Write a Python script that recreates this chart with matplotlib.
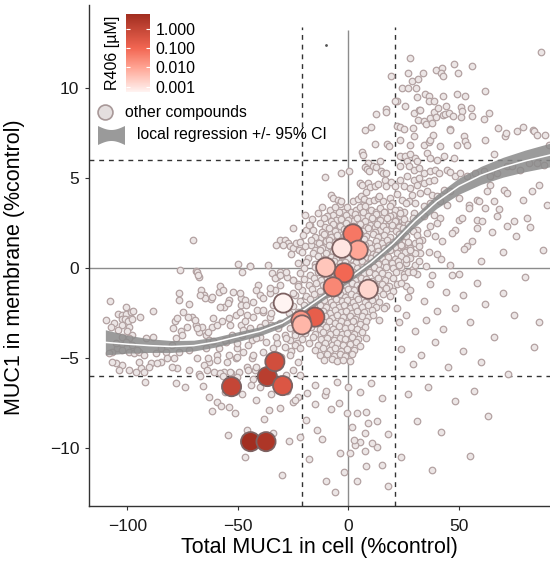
import numpy as np
import matplotlib
matplotlib.use("Agg")
import matplotlib.pyplot as plt
from matplotlib.colors import LinearSegmentedColormap, LogNorm
from matplotlib.patches import Polygon
from matplotlib.ticker import NullLocator

plt.rcParams['font.family'] = ['Liberation Sans', 'DejaVu Sans']

# ---- other compounds (Total MUC1 %control, membrane MUC1 %control), read by region ----
cloud_top = [
    (27.7, 11.67), (87.3, 12.0), (26.8, 10.83), (28.6, 10.4), (31.3, 10.5), (33.7, 10.83),
    (39.7, 10.98), (42.3, 11.1), (42, 10.8), (43, 10.65), (47.9, 11.35), (49.7, 10.83),
    (56, 11.2), (24.2, 10.0), (26.8, 10.0), (30.7, 10.0), (21.9, 9.25), (31, 9.5),
    (34.8, 9.67), (36.6, 9.53), (36.3, 9.3), (38.8, 9.29), (42.6, 9.57), (49.2, 9.68),
    (52.7, 9.53), (61.8, 9.83), (25.7, 9.0), (29.5, 8.61), (31.8, 8.8), (32.5, 8.8),
    (31.3, 8.24), (34.3, 8.18), (35.2, 8.0), (37, 8.33), (37.6, 8.05), (38.5, 8.65),
    (39.7, 8.37), (40.5, 8.9), (42.6, 8.52), (43.8, 8.56), (44.3, 8.98), (45.6, 8.61),
    (47.1, 8.46), (50.8, 8.94), (51.4, 8.7), (51, 8.37), (55.4, 8.89), (56, 8.42),
    (61.4, 8.29), (63.6, 8.61), (21.9, 7.9), (23.4, 7.81), (25, 7.74), (29.2, 7.78),
    (45.8, 7.74), (67.6, 7.78), (78.8, 7.81), (83.5, 7.64), (19.4, 10.64), (12.6, 8.57),
    (16.8, 8.83), (17.1, 8.64), (20.9, 9.29), (7.3, 7.68), (10.3, 7.81),
    (11.9, 6.9), (17.4, 6.9), (18.2, 6.76), (6.2, 6.44), (6.6, 6.26), (14.4, 5.92),
    (8.8, 5.83), (7.3, 5.59), (8.4, 5.52), (11.1, 5.64), (12.6, 5.59), (9.3, 5.4),
    (14.6, 5.37), (15.6, 5.28), (16.8, 5.28), (-3.5, 5.28), (0.1, 5.4), (-10.8, 5.06),
    (23.4, 7.13), (28, 6.85), (29.5, 7.31), (34, 6.85), (36.3, 6.98), (37, 7.13),
    (38.2, 7.41), (41.5, 6.76), (46.1, 7.68), (49.1, 6.85), (52.1, 7.31), (52.9, 7.03),
    (53.6, 6.85), (61.9, 7.13), (65.7, 6.35), (71, 7.31), (71.4, 7.5), (76.2, 7.59),
    (83.8, 7.59), (85.3, 7.41), (89, 7.41), (90.6, 6.85),
    (23.4, 6.2), (25.7, 6.24), (28, 6.35), (30.2, 6.11), (26.5, 5.92), (31, 5.92),
    (35.5, 6.39), (37, 6.11), (40, 6.02), (43.1, 6.2), (47.6, 6.11), (23.4, 5.64),
    (27.2, 5.64), (29.5, 5.46), (31.8, 5.56), (34, 5.28), (37, 5.37), (39.3, 5.46),
    (40.8, 5.28), (44.6, 5.46), (46.1, 5.31), (48.3, 5.09), (50.6, 5.28), (53.6, 5.09),
    (57.4, 5.28), (61.2, 5.37), (64.2, 5.09), (67.2, 5.28), (71.7, 5.64), (74, 5.64),
    (77.7, 5.46), (81.5, 5.83), (85.3, 5.83), (88.3, 5.74),
]

cloud_right = [
    (23.4, 4.91), (26.5, 5.09), (29.5, 4.91), (31.8, 5.0), (25, 4.53), (28, 4.44),
    (31, 4.63), (34, 4.72), (36.3, 4.81), (38.5, 4.91), (28.7, 4.07), (32.5, 4.17),
    (35.5, 4.26), (37.8, 4.07), (40, 3.98), (43.1, 4.35), (46.1, 4.26), (49.9, 3.89),
    (24.2, 3.79), (27.2, 3.7), (30.2, 3.61), (34, 3.42), (37, 3.61), (41.5, 3.7),
    (44.6, 3.52), (54.4, 3.52), (58.1, 3.79), (62.7, 4.26), (64.2, 4.63), (70.2, 4.35),
    (71.7, 4.17), (83, 4.26), (54.4, 3.33), (58.9, 3.7), (61.9, 3.33), (65.7, 3.7),
    (67.2, 2.87), (71.7, 2.31), (74.8, 2.59), (80.8, 2.78), (58.1, 2.68), (60.4, 2.59),
    (49.9, 2.68), (51.4, 2.78), (48.3, 2.13), (46.8, 1.94), (25, 3.14), (29.5, 3.06),
    (34, 2.87), (38.5, 2.96), (41.5, 2.78), (37, 2.31), (40, 2.5), (25, 2.5),
    (31, 2.13), (35.5, 1.94), (39.3, 1.76), (42.3, 1.48), (33.3, 1.57), (30.2, 1.39),
    (25, 1.76), (53.6, 1.2), (52.1, 1.06), (22.7, 3.24), (23.4, 2.87), (22.7, 2.31),
    (24.2, 2.13), (22.7, 1.57), (24.2, 1.2), (23.4, 0.83), (26.5, 1.02), (28.7, 0.92),
    (32.5, 0.83), (36.3, 0.92), (40, 0.79),
    (56, 1.5), (60, 0.4), (65, 2.0), (70, 0.9), (76, 1.8), (82, 2.3), (88, 1.0),
    (90, 3.5), (86, 4.6), (79, 3.8), (68, 3.3), (58, 2.2),
]

cloud_upper_core = [
    (5.1, 4.72), (6.2, 4.63), (8.8, 4.72), (9.9, 4.5), (11.9, 4.53), (13.3, 4.67),
    (16.4, 4.9), (17.1, 4.53), (19.4, 4.76), (20.9, 4.53), (-7.8, 4.07), (-7, 3.89),
    (-4.8, 3.79), (-4, 3.57), (-3.3, 3.74), (2, 3.7), (4.3, 3.83), (5.8, 3.98),
    (6.9, 3.83), (6.6, 3.52), (9.3, 3.7), (11.4, 3.79), (13.3, 3.89), (15.6, 3.7),
    (18.6, 3.89), (19.8, 3.64), (-8.2, 3.24), (-7, 2.96), (-5.5, 2.68), (-6.7, 2.41),
    (-2.5, 3.09), (-0.7, 3.39), (1.3, 3.14), (3.5, 3.24), (5.1, 3.39), (7.5, 3.42),
    (4.3, 2.96), (6.2, 2.83), (8.4, 3.06), (10.3, 3.24), (12.3, 3.09), (14.1, 3.33),
    (16.4, 3.14), (18.6, 3.42), (20.9, 3.24), (-2.5, 2.5), (0.2, 2.78), (2, 2.59),
    (11.1, 2.78), (13.3, 2.59), (15.6, 2.83), (18.2, 2.68), (20.1, 2.96), (21.6, 2.59),
    (9.6, 2.41), (11.9, 2.28), (14.1, 2.13), (16.8, 2.31), (19.4, 2.22), (-4.8, 2.13),
    (-1, 2.31), (-7.8, 1.94), (-10.8, 1.79), (-13, 1.67), (-14.8, 1.48), (-17.6, 2.41),
    (-19.1, 2.13), (-19.8, 2.96), (-31.1, 1.57), (-28.9, 1.57), (-27.4, 1.42),
    (-32.7, 1.29), (-29.6, 1.29), (-26.6, 1.2), (-25.1, 1.11), (-23.6, 1.39),
    (-22.4, 1.02), (-16.8, 1.29), (-15.3, 1.02), (-13, 1.29), (-10, 1.48), (-8.5, 1.2),
    (-6.2, 1.48),
]

cloud_core = [
    (-14, 3.05), (-9.5, 2.9), (-4.5, 3.1), (-1, 2.92), (3, 3.02), (6.5, 3.12), (9, 2.9),
    (12.5, 3.0), (16, 3.1), (19, 2.88), (23.5, 3.05),
    (-16.5, 2.72), (-11, 2.8), (-8, 2.6), (-3.5, 2.74), (0, 2.66), (4, 2.78), (7.5, 2.62),
    (10.5, 2.8), (14.5, 2.68), (17.5, 2.76), (21, 2.6), (25, 2.72), (29, 2.8),
    (-18, 2.38), (-13, 2.5), (-10.5, 2.3), (-7, 2.44), (-4, 2.32), (-1, 2.48), (2, 2.36),
    (5, 2.44), (8, 2.3), (13, 2.46), (15.5, 2.34), (19.5, 2.42), (23, 2.3), (27, 2.46),
    (-16, 2.12), (-12, 2.0), (-9, 2.2), (-6, 2.04), (-2, 2.16), (1, 2.02), (3.5, 2.18),
    (6.5, 2.06), (9, 2.2), (12, 2.0), (17, 2.14), (21.5, 2.04), (24.5, 2.2), (29, 2.08),
    (-20.5, 1.84), (-15, 1.74), (-11, 1.9), (-8, 1.72), (-5, 1.86), (-2, 1.76), (0.5, 1.9),
    (3, 1.7), (5.5, 1.84), (8, 1.76), (11, 1.9), (13.5, 1.72), (16, 1.86), (19, 1.74),
    (23, 1.9), (26, 1.78), (31, 1.84),
    (-22, 1.46), (-17, 1.56), (-13.5, 1.42), (-9, 1.58), (-6, 1.44), (-3, 1.54),
    (-0.5, 1.4), (2, 1.56), (4.5, 1.46), (7, 1.6), (9.5, 1.42), (12.5, 1.52), (15, 1.4),
    (17.5, 1.58), (20, 1.44), (22.5, 1.56), (27, 1.46), (32, 1.52),
    (-19.5, 1.22), (-12, 1.14), (-9, 1.28), (-6, 1.1), (-3, 1.24), (0, 1.12), (2.5, 1.28),
    (5, 1.16), (7.5, 1.26), (10, 1.1), (13, 1.24), (16, 1.14), (18.5, 1.3), (21, 1.16),
    (24, 1.26), (28, 1.12),
    (-21, 0.92), (-16, 0.84), (-13, 0.98), (-10, 0.86), (-7, 0.94), (-4, 0.82),
    (-1.5, 0.96), (1, 0.86), (3.5, 0.98), (6, 0.84), (8.5, 0.92), (11, 0.8), (13.5, 0.96),
    (16.5, 0.86), (19, 0.98), (22, 0.84), (25.5, 0.92), (30, 0.86),
    (-18.5, 0.58), (-14, 0.66), (-11, 0.52), (-8, 0.64), (-5.5, 0.54), (-3, 0.68),
    (0, 0.56), (2.5, 0.66), (5, 0.5), (7.5, 0.62), (10, 0.56), (12.5, 0.7), (15, 0.54),
    (18, 0.64), (21, 0.52), (24, 0.66), (28, 0.58),
    (-23, 0.28), (-19, 0.36), (-15, 0.22), (-12, 0.34), (-9, 0.24), (-6.5, 0.38),
    (-4, 0.26), (-1.5, 0.34), (1, 0.2), (3.5, 0.32), (6, 0.4), (8.5, 0.24), (11, 0.32),
    (13.5, 0.22), (16.5, 0.36), (19.5, 0.26), (22.5, 0.38), (26, 0.28),
    (-20, -0.02), (-15, 0.08), (-12, -0.06), (-9, 0.04), (-6, -0.08), (-3.5, 0.06),
    (-1, -0.04), (1.5, 0.1), (4, -0.02), (6.5, 0.08), (9, -0.06), (11.5, 0.04),
    (14, -0.08), (17, 0.06), (20, -0.02), (24, 0.08), (29, -0.04),
    (-22, -0.28), (-17.5, -0.36), (-14, -0.24), (-11, -0.38), (-8, -0.26), (-5.5, -0.34),
    (-3, -0.2), (-0.5, -0.32), (2, -0.24), (4.5, -0.38), (7, -0.28), (9.5, -0.2),
    (12, -0.34), (15, -0.26), (18, -0.36), (21.5, -0.24), (25, -0.32),
    (-20, -0.62), (-15.5, -0.54), (-12.5, -0.68), (-9.5, -0.56), (-7, -0.66),
    (-4.5, -0.52), (-2, -0.64), (0.5, -0.58), (3, -0.68), (5.5, -0.54), (8, -0.62),
    (10.5, -0.7), (13.5, -0.56), (16.5, -0.64), (20, -0.56),
    (-23, -0.88), (-18, -0.96), (-14.5, -0.84), (-11.5, -0.94), (-8.5, -0.82),
    (-6, -0.98), (-3.5, -0.86), (-1, -0.92), (1.5, -0.84), (4, -0.96), (6.5, -0.88),
    (9, -0.8), (12, -0.94), (15, -0.86), (18.5, -0.98), (22, -0.88),
    (-21, -1.24), (-16.5, -1.14), (-13, -1.26), (-10, -1.12), (-7.5, -1.22), (-5, -1.1),
    (-2.5, -1.28), (0, -1.16), (2.5, -1.24), (5, -1.1), (8, -1.28), (11, -1.16),
    (14, -1.24), (17, -1.12), (20, -1.26),
    (-24, -1.48), (-19, -1.56), (-15.5, -1.44), (-12.5, -1.58), (-9.5, -1.42),
    (-6.5, -1.54), (-4, -1.46), (-1.5, -1.6), (1, -1.44), (3.5, -1.56), (6, -1.4),
    (9, -1.52), (12, -1.6), (15.5, -1.46), (19, -1.54),
    (-22, -1.82), (-17.5, -1.74), (-14, -1.88), (-11, -1.76), (-8, -1.9), (-5.5, -1.72),
    (-3, -1.84), (-0.5, -1.78), (2, -1.9), (4.5, -1.74), (7.5, -1.86), (10.5, -1.76),
    (14, -1.88),
    (-25, -2.12), (-20, -2.04), (-16.5, -2.18), (-13, -2.06), (-10, -2.16), (-7, -2.02),
    (-4.5, -2.14), (-2, -2.06), (0.5, -2.2), (3, -2.08), (6, -2.16), (9, -2.04),
    (12.5, -2.14), (17, -2.08),
    (-23, -2.42), (-18.5, -2.34), (-15, -2.46), (-11.5, -2.36), (-8.5, -2.48), (-6, -2.32),
    (-3.5, -2.44), (-1, -2.38), (1.5, -2.5), (4, -2.36), (7, -2.46), (10.5, -2.34),
    (-20.5, -2.72), (-17, -2.64), (-13.5, -2.78), (-10.5, -2.66), (-7.5, -2.76),
    (-5, -2.62), (-2.5, -2.74), (0.5, -2.68), (3, -2.8), (6, -2.66), (9, -2.74),
    (-24, -2.98), (-19, -3.06), (-15.5, -2.94), (-12, -3.08), (-9, -2.96), (-6, -3.04),
    (-3.5, -2.92), (-0.5, -3.06), (2, -2.96), (5, -3.08), (8, -2.94),
    (-22, -3.32), (-17, -3.24), (-13, -3.38), (-10, -3.26), (-7, -3.36), (-4.5, -3.22),
    (-1.5, -3.34), (1, -3.28), (4, -3.38), (7.5, -3.26),
    (-19.5, -3.58), (-15, -3.66), (-11.5, -3.54), (-8.5, -3.64), (-5.5, -3.56),
    (-3, -3.68), (-0.5, -3.58), (2.5, -3.64), (6, -3.56),
    (-21, -3.92), (-16, -3.84), (-12.5, -3.96), (-9.5, -3.86), (-6.5, -3.98), (-4, -3.88),
    (-1.5, -3.96), (1.5, -3.84), (4.5, -3.94),
    (-18, -4.18), (-14, -4.26), (-10.5, -4.14), (-7.5, -4.24), (-5, -4.16), (-2.5, -4.28),
    (0.5, -4.2), (3.5, -4.12),
    (-15, -4.52), (-11.5, -4.44), (-8.5, -4.56), (-6, -4.46), (-3.5, -4.58), (-0.5, -4.48),
    (2.5, -4.54),
    (-13, -4.82), (-9.5, -4.76), (-6.5, -4.86), (-4, -4.78), (-1.5, -4.88), (1.5, -4.78),
    (-11, -5.12), (-7.5, -5.06), (-5, -5.16), (-2.5, -5.08), (0.5, -5.14),
    (-27, -2.5), (-26, 0.8), (-25, 2.2), (-24, -3.6), (26, -1.0), (28, 1.0), (30, 0.2),
    (32, 1.2), (27, -0.2), (-26, -4.6), (5, -4.3), (8, -3.9), (11, -2.6), (14, -2.9),
    (16, -2.2), (-12, 3.4), (-6, 3.4), (8, 4.2), (14, 4.0), (22, 4.1), (26, 3.6),
]

cloud_left = [
    (-50, 0.24), (-69.1, -0.15), (-67.6, -0.47), (-66.9, -1.21), (-65.4, -1.48),
    (-76.7, -1.39), (-76.7, -1.76), (-72.2, -2.0), (-62.4, -1.7), (-58.6, -1.33),
    (-58.1, -1.02), (-56.3, -2.13), (-54.1, -1.76), (-48.8, -1.67), (-48.8, -2.04),
    (-108, -1.82), (-100.5, -2.13), (-104.2, -2.56), (-102.4, -2.59), (-100.5, -2.56),
    (-98.6, -2.44), (-97.4, -2.37), (-94.5, -2.69), (-88.3, -2.37), (-102.6, -2.82),
    (-101.1, -2.82), (-99.6, -2.93), (-98.1, -2.83), (-109.9, -2.87), (-106.1, -3.06),
    (-107.6, -3.24), (-102.4, -3.15), (-99.3, -3.24), (-104.2, -3.43), (-100.1, -3.48),
    (-97.8, -3.71), (-102.4, -3.8), (-99.3, -3.89), (-100.8, -4.11), (-103.1, -4.26),
    (-104.6, -4.44), (-102.4, -4.54), (-99.3, -4.63), (-97.1, -4.72), (-94.8, -4.63),
    (-92.5, -4.82), (-91.8, -3.89), (-105.3, -4.17), (-106.9, -4.63), (-108.4, -4.72),
    (-97.8, -4.26), (-95.6, -4.54), (-88.5, -3.8), (-85, -4.41), (-87.2, -4.72),
    (-82.7, -4.63), (-85, -5.19), (-89.5, -5.28), (-90.3, -5.47), (-94, -5.56),
    (-92.5, -5.74), (-96.3, -5.74), (-99.3, -5.65), (-102.4, -5.37), (-105.3, -5.28),
    (-106.9, -5.19), (-103.8, -5.65), (-94.8, -5.19), (-86.5, -5.28), (-82, -5.0),
    (-79, -5.0), (-79.7, -4.26), (-76.7, -4.63), (-77.9, -3.89), (-75.9, -3.48),
    (-79.4, -3.3), (-78.5, -2.96), (-77.5, -2.78), (-75.2, -3.71), (-72.2, -4.54),
    (-72.9, -3.24), (-70.7, -2.69), (-68.9, -3.15), (-67.6, -3.56), (-64.6, -3.71),
    (-64.3, -4.41), (-63.1, -3.98), (-61.6, -3.24), (-59.4, -3.15), (-57.1, -2.96),
    (-54.1, -2.78), (-51, -2.59), (-48.8, -3.15), (-61.3, -4.04), (-58.6, -4.44),
    (-55.6, -4.08), (-52.6, -3.71), (-50.3, -4.44), (-48.1, -3.71), (-54.1, -4.82),
    (-51, -5.0), (-59.4, -4.82), (-63.1, -5.19), (-65.4, -5.37), (-63.9, -5.65),
    (-60.9, -5.74), (-56.3, -5.74), (-53.3, -5.83), (-49.5, -5.74), (-67.6, -5.89),
    (-72.2, -5.65), (-77.5, -5.56), (-79.7, -5.47),
    (-70.2, 1.57), (-76.2, -0.09), (-68.7, -0.19), (-68, -0.37), (-44.6, 0.09),
    (-48.3, -0.24), (-36.3, 0.18), (-34.8, -0.28), (-32.5, -0.47), (-31, -0.19),
    (-28, -0.47), (-25, -0.65), (-31, -0.93), (-33.3, -1.21), (-35.5, -1.39), (-40, -1.48),
    (-43.1, -1.86), (-46.8, -1.76), (-49.1, -1.39), (-52.1, -1.3), (-56.7, -1.21),
    (-61.9, -1.58), (-64.9, -1.67), (-67.2, -1.48), (-58.1, -2.13), (-54.4, -1.94),
    (-49.1, -2.41), (-46.1, -2.59), (-41.5, -2.32), (-38.6, -2.41), (-35.5, -2.69),
    (-37.8, -3.06), (-31.8, -3.33), (-28.7, -3.71), (-26.5, -3.98), (-43.8, -3.98),
    (-50.6, -4.17), (-55.9, -3.98), (-63.4, -3.52), (-66.4, -3.24), (-68.7, -3.33),
    (-72.5, -2.69), (-74.7, -2.41), (-69.5, -2.87), (-61.2, -2.78), (-53.6, -3.15),
    (-47.6, -3.43), (-40, -3.8), (-32.5, -4.17), (-23.4, -4.17), (-68.7, -5.0),
    (-63.4, -5.0), (-59.6, -5.09), (-55.1, -5.19), (-50.6, -4.91), (-43.8, -5.0),
    (-46.1, -5.47), (-42.3, -5.65), (-53.6, -5.74), (-58.1, -5.83), (-67.2, -5.98),
    (-56.7, -5.98), (-50.6, -6.02),
    (-44.7, 0.09), (-41, -0.93), (-41.7, -1.21), (-46.2, -2.04), (-38.7, -1.67),
    (-35.7, -1.11), (-33.4, -0.56), (-31.1, -0.37), (-28.1, -0.19), (-25.1, -0.65),
    (-22.9, -1.02), (-25.1, -1.39), (-34.2, -2.04), (-34.9, -2.5), (-38.7, -2.32),
    (-43.2, -2.69), (-47, -2.96), (-44.7, -3.33), (-40.2, -3.24), (-34.9, -3.15),
    (-31.1, -3.06), (-26.6, -3.33), (-24.3, -3.71), (-28.1, -3.89), (-32.7, -3.8),
    (-37.2, -4.08), (-41.7, -3.89), (-45.5, -4.26), (-47.7, -4.63), (-43.2, -4.82),
    (-38.7, -4.63), (-34.2, -4.44), (-28.9, -4.36), (-24.3, -4.26), (-22.1, -4.44),
    (-26.6, -4.82), (-30.4, -4.91), (-22.9, -5.19), (-25.1, -5.65), (-28.1, -5.93),
    (-22.1, -5.93), (-41.7, -5.47), (-45.5, -5.65),
]

cloud_bottom = [
    (-74, -6.58), (-65.7, -6.54), (-63, -7.13), (-59.6, -7.44), (-57.8, -7.63),
    (-61.9, -7.93), (-53.9, -7.69), (-51.4, -8.06), (-43.1, -6.17), (-44.3, -6.48),
    (-41.9, -7.32), (-35.8, -7.87), (-31, -7.78), (-22.7, -7.13), (-18.9, -6.94),
    (-19.2, -8.43), (-14.4, -8.98), (-10.6, -7.04), (-4.2, -7.5), (-0.8, -8.06),
    (3.7, -8.02), (1.4, -8.8), (7.5, -9.17), (5.2, -9.63), (9, -8.61), (-54.4, -9.26),
    (-34, -9.17), (-46.1, -8.98), (-21.9, -9.36), (-25, -7.41), (-15.2, -7.54),
    (2.9, -9.82), (2.5, -9.54), (12.8, -9.91), (-3.8, -10.24), (0.7, -10.28),
    (7.5, -10.13), (10.5, -9.72),
    (-15, -6.5), (-10, -6.8), (-5, -6.3), (0, -6.6), (5, -6.9), (10, -6.4), (15, -7.2),
    (-8, -7.8), (8, -8.0), (13, -8.5), (-12, -9.5), (18, -9.2), (-18, -10.6),
    (-2, -11.3), (4, -11.8), (15, -10.9), (-10, -11.8),
    (-40, -6.6), (-35, -7.0), (-28, -6.8), (-24, -7.3), (-48, -7.0), (-56, -6.9),
    (-38, -8.4), (-27, -9.6), (-47, -10.5), (-30, -11.5), (-78, -6.4), (-92, -6.3),
]

cloud_lower_right = [
    (25, -0.5), (28, -1.2), (31, -0.3), (34, -1.8), (37, -0.9), (40, -2.4), (44, -1.3),
    (47, -0.4), (26, -2.6), (30, -3.5), (35, -2.9), (39, -4.1), (43, -3.4), (48, -2.2),
    (52, -1.5), (55, -3.0), (58, -0.8), (62, -2.0), (66, -3.8), (70, -1.4), (75, -2.6),
    (80, -0.5), (86, -3.0), (24, -4.5), (29, -5.3), (33, -4.8), (45, -5.5), (52, -4.6),
    (60, -5.2), (27, -7.0), (36, -6.6), (48, -7.4), (57, -6.8), (72, -5.9), (84, -4.4),
    (31, -8.5), (42, -9.1), (63, -8.2), (24, -10.5), (38, -11.2), (55, -10.4),
    (18, -12.1), (8, -11.0), (-6, -12.4),
    (23, 0.2), (26, 0.5), (29, -0.2), (32, 0.4), (35, 0.1), (38, -0.4), (42, 0.5),
    (46, 0.2), (50, -0.3), (24, -0.8), (27, -1.6), (22, -2.2), (23, -3.0),
]

# stray tiny mark near the top
stray_x = [-10]
stray_y = [12.4]

# ---- R406 dilution series ----
r406_x = [-44.3, -37.3, -36.7, -52.9, -33.3, -29.8, -15.2, -2.0, 2.0, -6.9,
          -21.5, 4.4, -21.0, -10.3, 9.0, -3.0, -29.5]
r406_y = [-9.63, -9.63, -6.02, -6.58, -5.19, -6.52, -2.72, -0.26, 1.9, -1.04,
          -2.9, 1.0, -3.15, 0.05, -1.17, 1.1, -1.94]
r406_conc = [5.8, 3.2, 1.8, 1.0, 0.56, 0.31, 0.17, 0.096, 0.053, 0.030,
             0.017, 0.0093, 0.0052, 0.0029, 0.0016, 0.00091, 0.00051]

# ---- local regression ----
fit_x = [-110, -100, -90, -80, -70, -60, -50, -40, -30, -20, -10, 0, 10, 20, 30, 40,
         50, 60, 70, 80, 92]
fit_y = [-4.12, -4.22, -4.3, -4.35, -4.3, -4.1, -3.8, -3.5, -3.05, -2.3, -1.45, -0.6,
         0.3, 1.35, 2.6, 3.7, 4.55, 5.15, 5.6, 5.95, 6.3]
fit_ci = [0.7, 0.5, 0.38, 0.33, 0.3, 0.28, 0.27, 0.25, 0.23, 0.22, 0.2, 0.2, 0.22,
          0.26, 0.32, 0.38, 0.45, 0.5, 0.55, 0.6, 0.66]

x_cut = 21
y_cut = 6

cloud = np.array(cloud_top + cloud_right + cloud_upper_core + cloud_core
                 + cloud_left + cloud_bottom + cloud_lower_right)

W, H = 550, 575
fig = plt.figure(figsize=(W / 100, H / 100), dpi=100)
ax = fig.add_axes([89 / W, 69 / H, 461 / W, 501 / H])
xlim = (-117.4, 91.2)
ylim = (-13.2, 14.6)
ax.set_xlim(*xlim)
ax.set_ylim(*ylim)

# reference lines
ax.axhline(0, color='#8c8c8c', lw=1.0, zorder=1)
ax.vlines(0, ylim[0], 13.2, color='#8c8c8c', lw=1.0, zorder=1)
for v in (-y_cut, y_cut):
    ax.axhline(v, color='#333333', lw=1.0, ls=(0, (3.5, 3.5)), zorder=1)
for v in (-x_cut, x_cut):
    ax.vlines(v, ylim[0], 13.4, color='#333333', lw=1.0, ls=(0, (3.5, 3.5)), zorder=1)

# other compounds
ax.scatter(cloud[:, 0], cloud[:, 1], s=22, facecolor='#ECE6E6', edgecolor='#B3A2A2',
           linewidths=0.9, zorder=2)
ax.plot(stray_x, stray_y, 'o', ms=1, color='#555555', zorder=2)

# regression band
fx = np.array(fit_x)
fy = np.array(fit_y)
fc = np.array(fit_ci)
ax.fill_between(fx, fy - fc, fy + fc, color='#8a8a8a', alpha=0.85, lw=0, zorder=3)
ax.plot(fx, fy, color='white', lw=1.1, zorder=3.5)

# R406
stops = [0.00051, 0.001, 0.01, 0.1, 1.0, 5.8]
cols = ['#FFF4F2', '#FFE2DD', '#FFA493', '#F26652', '#C44636', '#A22E20']
lo, hi = np.log10(stops[0]), np.log10(stops[-1])
cmap = LinearSegmentedColormap.from_list(
    'r406', [((np.log10(s) - lo) / (hi - lo), c) for s, c in zip(stops, cols)])
norm = LogNorm(vmin=stops[0], vmax=stops[-1])
sc = ax.scatter(r406_x, r406_y, c=r406_conc, cmap=cmap, norm=norm, s=190,
                edgecolors='#7d6262', linewidths=1.3, zorder=4)

for s in ('top', 'right'):
    ax.spines[s].set_visible(False)
for s in ('left', 'bottom'):
    ax.spines[s].set_color('#333333')
    ax.spines[s].set_linewidth(1.0)
ax.set_xticks([-100, -50, 0, 50])
ax.set_yticks([-10, -5, 0, 5, 10])
ax.tick_params(length=3, width=0.8, color='#333333', labelsize=12.5, labelcolor='#1a1a1a')
ax.tick_params(axis='x', pad=6.5)
ax.tick_params(axis='y', pad=4)

fig.text(319 / W, 1 - 548 / H, 'Total MUC1 in cell (%control)', ha='center', va='center',
         fontsize=15.5)
fig.text(15 / W, 1 - 267 / H, 'MUC1 in membrane (%control)', rotation=90, ha='center',
         va='center', fontsize=15.5)

# colour bar
cax = fig.add_axes([125.7 / W, 1 - 92.3 / H, 24.3 / W, 78 / H])
cb = fig.colorbar(sc, cax=cax)
cb.outline.set_visible(False)
cb.set_ticks([1, 0.1, 0.01, 0.001])
cb.set_ticklabels(['1.000', '0.100', '0.010', '0.001'])
cax.yaxis.set_minor_locator(NullLocator())
cax.tick_params(direction='in', length=3, width=0.8, color='white', left=True, right=True,
                labelsize=11.5, pad=4)
fig.text(112 / W, 1 - 53 / H, 'R406 [µM]', rotation=90, ha='center', va='center',
         fontsize=11.5)

# legend keys
lax = fig.add_axes([0, 0, 1, 1], zorder=5)
lax.set_xlim(0, W)
lax.set_ylim(H, 0)
lax.axis('off')
lax.patch.set_visible(False)
lax.scatter([105], [112], s=115, facecolor='#E4DEDE', edgecolor='#A89898', linewidths=1.2)
lax.text(125, 112, 'other compounds', va='center', ha='left', fontsize=11.3)
t = np.linspace(0, 1, 30)
kx = 98 + 27 * t
top = 126 + 4 * np.sin(np.pi * t)
bot = 145 - 4 * np.sin(np.pi * t)
lax.add_patch(Polygon(np.column_stack([np.r_[kx, kx[::-1]], np.r_[top, bot[::-1]]]),
                      closed=True, color='#9a9a9a', lw=0))
lax.text(137, 135, 'local regression +/- 95% CI', va='center', ha='left', fontsize=11.3)

fig.savefig('out.png', dpi=100)
